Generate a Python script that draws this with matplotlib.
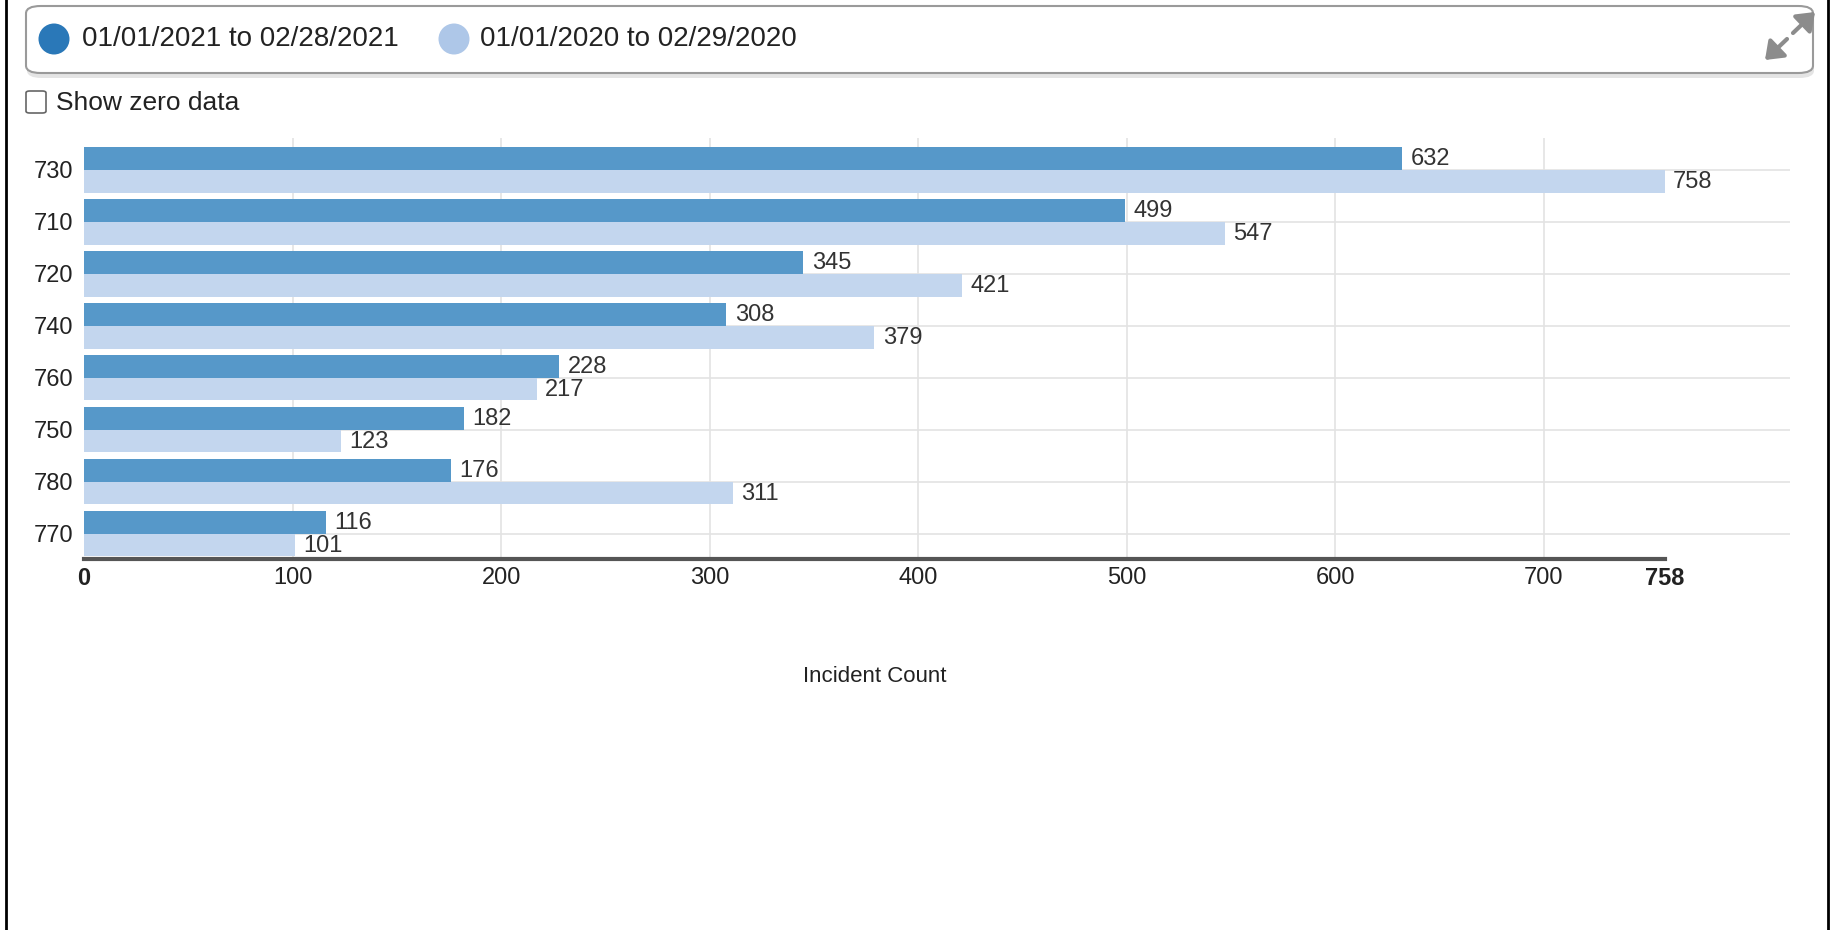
import matplotlib
matplotlib.use("Agg")
import matplotlib.pyplot as plt
import numpy as np
from matplotlib.patches import FancyBboxPatch, Ellipse, FancyArrowPatch
from matplotlib.lines import Line2D

# data
categories = ["730", "710", "720", "740", "760", "750", "780", "770"]
counts_2021 = [632, 499, 345, 308, 228, 182, 176, 116]
counts_2020 = [758, 547, 421, 379, 217, 123, 311, 101]
series_names = ["01/01/2021 to 02/28/2021", "01/01/2020 to 02/29/2020"]
x_ticks = [0, 100, 200, 300, 400, 500, 600, 700, 758]

dark_bar = "#5698c9"
light_bar = "#c3d6ee"
dark_dot = "#2a78b8"
light_dot = "#aec7e8"
txt = "#222222"

plt.rcParams["font.family"] = ["Liberation Sans", "DejaVu Sans"]

W, H = 1834, 930
fig = plt.figure(figsize=(W / 100, H / 100), dpi=100)


def fx(px):
    return px / W


def fy(py):
    return 1 - py / H


# outer frame lines
fig.add_artist(Line2D([fx(6), fx(6)], [0, 1], color="black", lw=2))
fig.add_artist(Line2D([fx(1828), fx(1828)], [0, 1], color="black", lw=2))

# legend box with a soft shadow underneath
fig.add_artist(FancyBboxPatch((fx(27), fy(78)), fx(1787), (78 - 10) / H,
                              boxstyle="round,pad=0,rounding_size=0.008", transform=fig.transFigure,
                              fc="#e4e4e4", ec="none", zorder=0))
fig.add_artist(FancyBboxPatch((fx(26), fy(73)), fx(1787), (73 - 6) / H,
                              boxstyle="round,pad=0,rounding_size=0.008", transform=fig.transFigure,
                              fc="white", ec="#9a9a9a", lw=1.5, zorder=1))
fig.add_artist(Ellipse((fx(54), fy(39)), 31 / W, 31 / H, transform=fig.transFigure,
                       fc=dark_dot, ec="none", zorder=2))
fig.text(fx(82), fy(39), series_names[0], fontsize=20, color=txt, va="center", ha="left", zorder=3)
fig.add_artist(Ellipse((fx(454), fy(39)), 31 / W, 31 / H, transform=fig.transFigure,
                       fc=light_dot, ec="none", zorder=2))
fig.text(fx(480), fy(39), series_names[1], fontsize=20, color=txt, va="center", ha="left", zorder=3)

# expand icon: two arrows pointing outward
for a, b in [((1793, 33), (1815, 12)), ((1787, 39), (1765, 60))]:
    fig.add_artist(FancyArrowPatch((fx(a[0]), fy(a[1])), (fx(b[0]), fy(b[1])), transform=fig.transFigure,
                                   arrowstyle="-|>,head_length=4,head_width=3", color="#8c8c8c", lw=3,
                                   mutation_scale=2.5, shrinkA=0, shrinkB=0, zorder=3))

# checkbox + label
fig.add_artist(FancyBboxPatch((fx(26), fy(113)), 20 / W, 22 / H, boxstyle="round,pad=0,rounding_size=0.002",
                              transform=fig.transFigure, fc="white", ec="#666666", lw=1.2))
fig.text(fx(56), fy(103), "Show zero data", fontsize=19, color=txt, va="center", ha="left")

# chart axes
ax_left, ax_right, ax_top, ax_bottom = 84, 1790, 138, 559
ax = fig.add_axes([fx(ax_left), fy(ax_bottom), fx(ax_right - ax_left), (ax_bottom - ax_top) / H])

y = np.arange(len(categories))
h = 0.44
ax.barh(y - h / 2, counts_2021, height=h, color=dark_bar, zorder=3)
ax.barh(y + h / 2, counts_2020, height=h, color=light_bar, zorder=3)

for i in range(len(categories)):
    ax.text(counts_2021[i] + 4, y[i] - h / 2 + 0.02, str(counts_2021[i]), fontsize=17, color="#333333",
            va="center", ha="left", zorder=4)
    ax.text(counts_2020[i] + 4, y[i] + h / 2 + 0.02, str(counts_2020[i]), fontsize=17, color="#333333",
            va="center", ha="left", zorder=4)

px_per_unit = (1423 - 72) / 758.0
xmax = (1530 - 72) / px_per_unit
ax.set_xlim(0, xmax)
ax.set_ylim(7.49, -0.61)

# grid lines
for t in x_ticks[1:-1]:
    ax.axvline(t, color="#e3e3e3", lw=1.2, zorder=1)
for yi in y:
    ax.axhline(yi, color="#e3e3e3", lw=1.2, zorder=1)

# bottom axis line only up to the max value
ax.plot([0, x_ticks[-1]], [7.49, 7.49], color="#555555", lw=3, zorder=5, clip_on=False)

for s in ax.spines.values():
    s.set_visible(False)
ax.set_xticks(x_ticks)
ax.set_xticklabels([str(t) for t in x_ticks], fontsize=17, color=txt)
ax.get_xticklabels()[0].set_fontweight("bold")
ax.get_xticklabels()[-1].set_fontweight("bold")
ax.set_yticks(y)
ax.set_yticklabels(categories, fontsize=17, color=txt)
ax.tick_params(axis="both", length=0, pad=6)
ax.tick_params(axis="y", pad=8)

fig.text(fx(875), fy(677), "Incident Count", fontsize=16, color=txt, ha="center", va="center")

fig.savefig("out.png", dpi=100, facecolor="white")
